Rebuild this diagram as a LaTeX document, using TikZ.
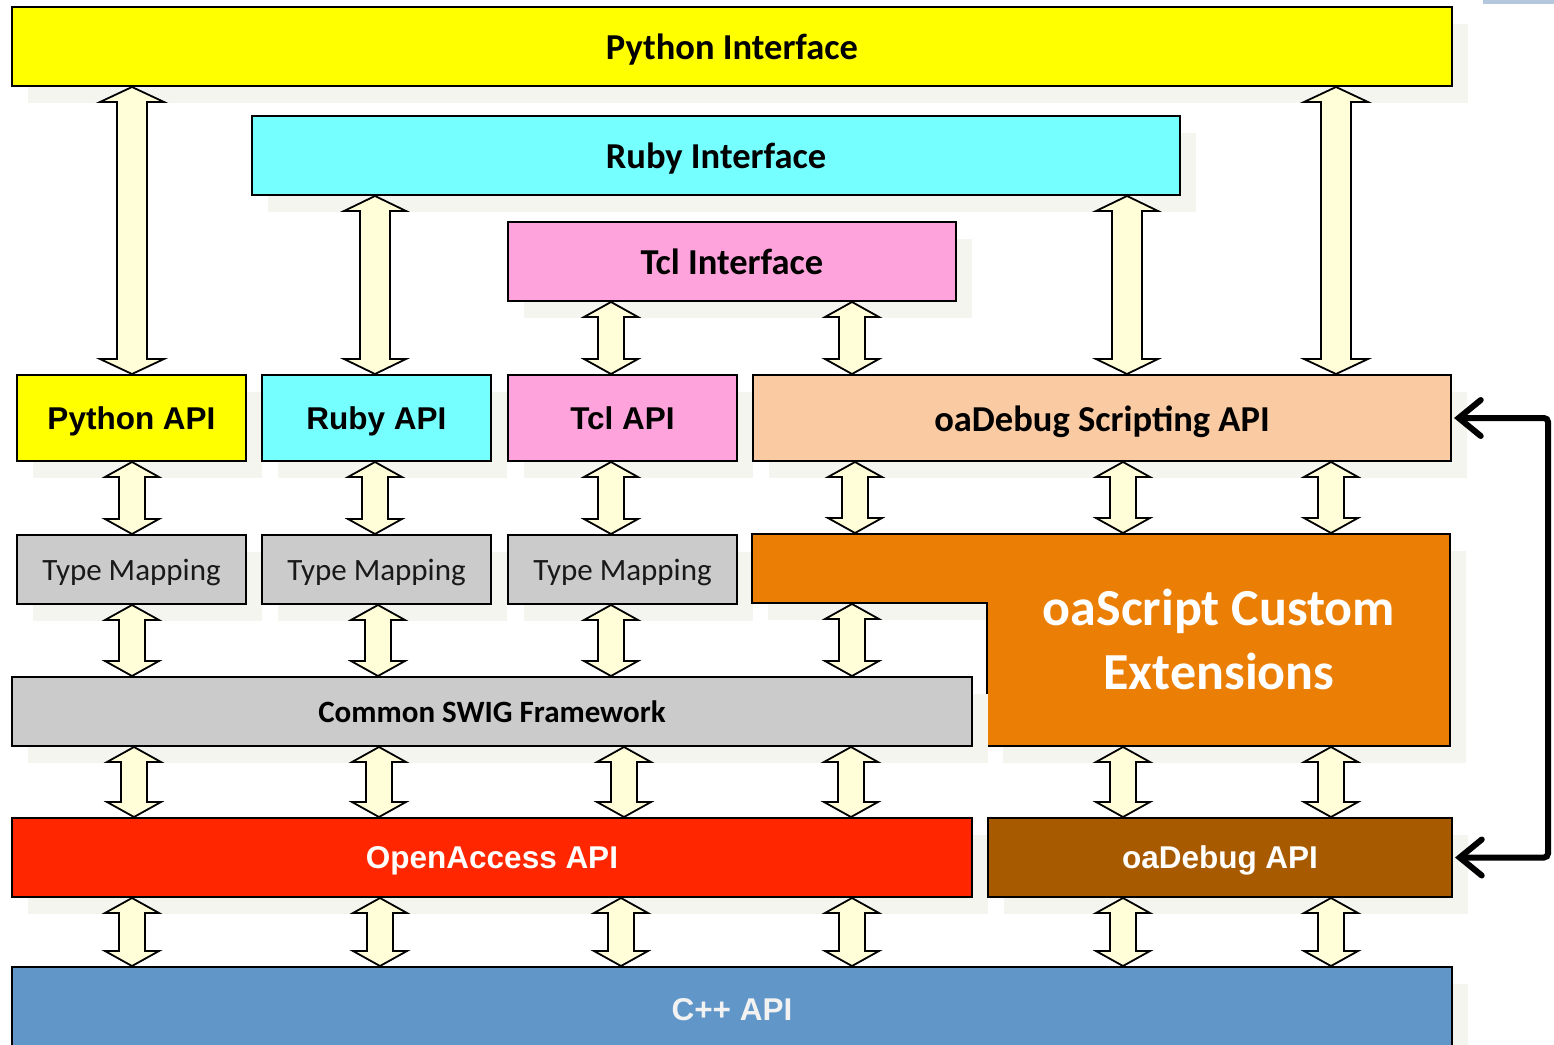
\documentclass[tikz,border=0pt]{standalone}
\usepackage{fontspec}
\setmainfont{Carlito}
\newfontfamily\arialfont{Liberation Sans}
\usetikzlibrary{shadows,arrows.meta}

% Doppelpfeil: x, von, nach, halbe Schaftbreite, halbe Kopfbreite
\newcommand{\biarrow}[5]{%
  \coordinate (t) at (#1,0 |- #2);
  \coordinate (b) at (#1,0 |- #3);
  \draw[flow] (t) -- ([xshift=#5pt,yshift=-15pt]t) -- ([xshift=#4pt,yshift=-15pt]t)
    -- ([xshift=#4pt,yshift=15pt]b) -- ([xshift=#5pt,yshift=15pt]b) -- (b)
    -- ([xshift=-#5pt,yshift=15pt]b) -- ([xshift=-#4pt,yshift=15pt]b)
    -- ([xshift=-#4pt,yshift=-15pt]t) -- ([xshift=-#5pt,yshift=-15pt]t) -- cycle;
}

\begin{document}
\begin{tikzpicture}[x=1pt, y=-1pt,
    box/.style={draw=black, line width=2pt, inner sep=0pt, anchor=north west, text depth=0pt,
      general shadow={fill=shadowgray, shadow xshift=16pt, shadow yshift=-17pt}},
    ifbox/.style={box, text height=26.5pt, font=\fontsize{36.5}{40}\selectfont\bfseries},
    apibox/.style={box, text height=22.7pt, font=\arialfont\fontsize{31.5}{36}\selectfont\bfseries},
    mapbox/.style={box, fill=mapgray, text=black!90, text height=22.6pt, font=\fontsize{31}{36}\selectfont},
    flow/.style={fill=cream, draw=black, line width=1.8pt, line join=miter}]

		% Farben definieren
		\definecolor{pyyellow}{RGB}{255,255,0}
		\definecolor{rbcyan}{RGB}{117,255,255}
		\definecolor{tclpink}{RGB}{255,163,221}
		\definecolor{dbgpeach}{RGB}{250,203,162}
		\definecolor{mapgray}{RGB}{203,203,203}
		\definecolor{extorange}{RGB}{235,126,5}
		\definecolor{oared}{RGB}{255,38,0}
		\definecolor{dbgbrown}{RGB}{168,90,0}
		\definecolor{cppblue}{RGB}{97,150,200}
		\definecolor{cream}{RGB}{255,254,216}
		\definecolor{shadowgray}{RGB}{244,245,239}

		\useasboundingbox (0,0) rectangle (1554,1044);
		\fill[fill={rgb,255:red,181;green,199;blue,220}] (1483,0) rectangle (1554,4);

		% --- Interfaces ---
		\node[ifbox, fill=pyyellow, minimum width=1440pt, minimum height=79pt] (pyif) at (11,6) {Python Interface};
		\node[ifbox, fill=rbcyan, minimum width=928pt, minimum height=79pt] (rbif) at (251,115) {Ruby Interface};
		\node[ifbox, fill=tclpink, minimum width=448pt, minimum height=79pt] (tclif) at (507,221) {Tcl Interface};

		% --- APIs ---
		\node[apibox, fill=pyyellow, minimum width=229pt, minimum height=86pt] (pyapi) at (16,374) {Python API};
		\node[apibox, fill=rbcyan, minimum width=229pt, minimum height=86pt] (rbapi) at (261,374) {Ruby API};
		\node[apibox, fill=tclpink, minimum width=229pt, minimum height=86pt] (tclapi) at (507,374) {Tcl API};
		\node[ifbox, fill=dbgpeach, minimum width=698pt, minimum height=86pt] (scrapi) at (752,374) {oaDebug Scripting API};

		% --- Type Mapping ---
		\node[mapbox, minimum width=229pt, minimum height=69pt] (pymap) at (16,534) {Type Mapping};
		\node[mapbox, minimum width=229pt, minimum height=69pt] (rbmap) at (261,534) {Type Mapping};
		\node[mapbox, minimum width=229pt, minimum height=69pt] (tclmap) at (507,534) {Type Mapping};

		% --- oaScript Erweiterungen (L-Form) ---
		\draw[draw=black, line width=2pt, fill=extorange,
		  general shadow={fill=shadowgray, shadow xshift=16pt, shadow yshift=-17pt}]
		  (752,534) -- (1450,534) -- (1450,746) -- (987,746) -- (987,603) -- (752,603) -- cycle;
		\node[text=white, align=center, font=\fontsize{52}{64}\selectfont\bfseries] (ext) at (1219,639) {oaScript Custom\\Extensions};
		\coordinate (exttop) at (1100,533);
		\coordinate (extbar) at (852,604);
		\coordinate (extbot) at (1200,747);

		% --- untere Schichten ---
		\node[box, fill=mapgray, minimum width=960pt, minimum height=69pt, text height=22.6pt, font=\fontsize{31}{36}\selectfont\bfseries] (swig) at (11,676) {Common SWIG Framework};
		\node[apibox, fill=oared, text=white, minimum width=960pt, minimum height=79pt] (oa) at (11,817) {OpenAccess API};
		\node[apibox, fill=dbgbrown, text=white, minimum width=464pt, minimum height=79pt] (dbgapi) at (987,817) {oaDebug API};
		\node[apibox, fill=cppblue, text=white!95!black, minimum width=1440pt, minimum height=84pt] (cpp) at (11,966) {C++ API};

		% --- Doppelpfeile ---
		\biarrow{132}{pyif.south}{pyapi.north}{15}{32}
		\biarrow{1336}{pyif.south}{scrapi.north}{15}{32}
		\biarrow{375}{rbif.south}{rbapi.north}{15}{31}
		\biarrow{1127}{rbif.south}{scrapi.north}{15}{31}
		\biarrow{611}{tclif.south}{tclapi.north}{13}{27}
		\biarrow{852}{tclif.south}{scrapi.north}{13}{27}

		\biarrow{132}{pyapi.south}{pymap.north}{13}{27}
		\biarrow{375}{rbapi.south}{rbmap.north}{13}{27}
		\biarrow{611}{tclapi.south}{tclmap.north}{13}{27}
		\foreach \x in {855,1123,1331}
		  {\biarrow{\x}{scrapi.south}{exttop}{13}{27}}

		\biarrow{132}{pymap.south}{swig.north}{13}{27}
		\biarrow{378}{rbmap.south}{swig.north}{13}{27}
		\biarrow{611}{tclmap.south}{swig.north}{13}{27}
		\biarrow{852}{extbar}{swig.north}{13}{27}

		\foreach \x in {134,379,624,851}
		  {\biarrow{\x}{swig.south}{oa.north}{13}{27}}
		\foreach \x in {1123,1331}
		  {\biarrow{\x}{extbot}{dbgapi.north}{13}{27}}

		\foreach \x in {132,380,621,852}
		  {\biarrow{\x}{oa.south}{cpp.north}{13}{27}}
		\foreach \x in {1123,1331}
		  {\biarrow{\x}{dbgapi.south}{cpp.north}{13}{27}}

		% Rueckkopplung rechts
		\coordinate (loop) at (1548,0);
		\draw[line width=6pt, rounded corners=4pt, line cap=round,
		  {Straight Barb[length=22pt, width=36pt, line cap=round]}-{Straight Barb[length=22pt, width=36pt, line cap=round]}]
		  ([xshift=2pt]scrapi.east) -- (scrapi.east -| loop) -- (dbgapi.east -| loop) -- ([xshift=2pt]dbgapi.east);

	\end{tikzpicture}
\end{document}
